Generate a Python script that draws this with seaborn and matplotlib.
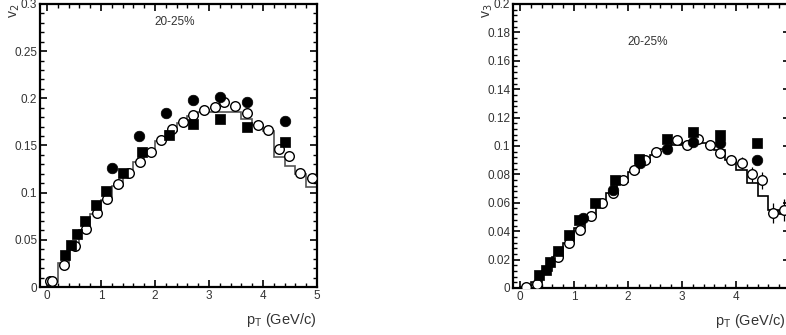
import numpy as np
import pandas as pd
import matplotlib
matplotlib.use("Agg")
import matplotlib.pyplot as plt
from matplotlib.ticker import MultipleLocator, FuncFormatter
import seaborn as sns

# ---------------- v2 panel data ----------------
v2_open_pt = [0.05, 0.10, 0.32, 0.52, 0.72, 0.92, 1.12, 1.31, 1.52, 1.72, 1.92, 2.12,
              2.31, 2.51, 2.71, 2.91, 3.11, 3.28, 3.49, 3.70, 3.90, 4.09, 4.30, 4.49,
              4.69, 4.90]
v2_open = [0.006, 0.006, 0.023, 0.043, 0.061, 0.078, 0.093, 0.109, 0.121, 0.133, 0.143,
           0.156, 0.167, 0.175, 0.182, 0.188, 0.191, 0.196, 0.192, 0.184, 0.172, 0.166,
           0.146, 0.139, 0.121, 0.116]
v2_open_err = [0.003, 0.003, 0.003, 0.003, 0.003, 0.003, 0.003, 0.003, 0.002, 0.002,
               0.002, 0.002, 0.002, 0.002, 0.002, 0.002, 0.002, 0.002, 0.002, 0.003,
               0.003, 0.003, 0.003, 0.003, 0.003, 0.004]
v2_sq_pt = [0.33, 0.45, 0.55, 0.70, 0.90, 1.10, 1.40, 1.75, 2.25, 2.70, 3.20, 3.70, 4.40]
v2_sq = [0.034, 0.045, 0.056, 0.070, 0.087, 0.102, 0.121, 0.143, 0.161, 0.173, 0.178,
         0.170, 0.154]
v2_circ_pt = [1.20, 1.70, 2.20, 2.70, 3.20, 3.70, 4.40]
v2_circ = [0.126, 0.160, 0.184, 0.198, 0.201, 0.196, 0.176]
v2_hist_edges = [0.0, 0.2, 0.4, 0.6, 0.8, 1.0, 1.2, 1.4, 1.6, 1.8, 2.0, 2.2, 2.4, 2.6,
                 2.8, 3.0, 3.6, 3.8, 4.0, 4.2, 4.4, 4.6, 4.8, 5.0]
v2_hist = [0.005, 0.025, 0.042, 0.060, 0.077, 0.092, 0.107, 0.120, 0.132, 0.143, 0.155,
           0.165, 0.174, 0.181, 0.185, 0.185, 0.178, 0.172, 0.165, 0.138, 0.128, 0.120,
           0.106]

# ---------------- v3 panel data ----------------
v3_open_pt = [0.11, 0.31, 0.71, 0.91, 1.11, 1.31, 1.52, 1.72, 1.91, 2.11, 2.31, 2.51,
              2.90, 3.09, 3.30, 3.51, 3.70, 3.91, 4.11, 4.30, 4.49, 4.69, 4.88]
v3_open = [0.0005, 0.003, 0.022, 0.032, 0.041, 0.051, 0.060, 0.067, 0.076, 0.083, 0.090,
           0.096, 0.104, 0.101, 0.105, 0.101, 0.095, 0.090, 0.088, 0.080, 0.076, 0.053,
           0.055]
v3_open_err = [0.002, 0.002, 0.002, 0.002, 0.002, 0.002, 0.002, 0.002, 0.002, 0.002,
               0.002, 0.002, 0.002, 0.002, 0.002, 0.002, 0.003, 0.003, 0.004, 0.005,
               0.006, 0.007, 0.008]
v3_sq_pt = [0.36, 0.48, 0.56, 0.70, 0.90, 1.10, 1.39, 1.75, 2.21, 2.72, 3.21, 3.70, 4.38]
v3_sq = [0.009, 0.013, 0.018, 0.026, 0.037, 0.048, 0.060, 0.076, 0.091, 0.105, 0.110,
         0.108, 0.102]
v3_circ_pt = [1.17, 1.72, 2.22, 2.72, 3.21, 3.70, 4.38]
v3_circ = [0.049, 0.069, 0.088, 0.098, 0.103, 0.102, 0.090]
v3_hist_edges = v2_hist_edges
v3_hist = [0.001, 0.004, 0.012, 0.022, 0.032, 0.042, 0.051, 0.059, 0.067, 0.075, 0.082,
           0.089, 0.094, 0.098, 0.101, 0.102, 0.097, 0.090, 0.083, 0.074, 0.065, 0.055,
           0.052]

centrality = "20-25%"

##############################################

sns.set_style("ticks")
plt.rcParams["font.family"] = ["Liberation Sans", "DejaVu Sans"]

W, H = 786, 335
fig = plt.figure(figsize=(W / 100, H / 100), dpi=100)


def fmt(v, p):
    # hide labels that would fall outside the visible (cropped) area
    return "" if v > 4.5 and fmt.hide5 else f"{v:g}"


def panel(rect, ylim, ymaj, ymin, ylabel, open_pt, open_v, open_err, sq_pt, sq_v,
          circ_pt, circ_v, edges, hist, hist_color, label_y, hide5=False):
    ax = fig.add_axes(rect)
    ax.stairs(hist, edges, color=hist_color, lw=1.2, zorder=1)
    ax.errorbar(open_pt, open_v, yerr=open_err, fmt="none", ecolor="black",
                elinewidth=0.9, zorder=2)
    sns.scatterplot(x=open_pt, y=open_v, ax=ax, marker="o", s=48,
                    facecolor="white", edgecolor="black", linewidth=1.0, zorder=3)
    sns.scatterplot(x=sq_pt, y=sq_v, ax=ax, marker="s", s=50, color="black",
                    edgecolor="black", linewidth=0.5, zorder=4)
    sns.scatterplot(x=circ_pt, y=circ_v, ax=ax, marker="o", s=58, color="black",
                    edgecolor="black", linewidth=0.5, zorder=5)

    ax.set_xlim(-0.13, 5.0)
    ax.set_ylim(*ylim)
    ax.xaxis.set_major_locator(MultipleLocator(1))
    ax.xaxis.set_minor_locator(MultipleLocator(0.2))
    ax.yaxis.set_major_locator(MultipleLocator(ymaj))
    ax.yaxis.set_minor_locator(MultipleLocator(ymin))
    ax.tick_params(which="both", direction="in", top=True, right=True,
                   labelsize=8.5, labelcolor="#333333", color="black", pad=2)
    ax.tick_params(which="major", length=5, width=1.2)
    ax.tick_params(which="minor", length=3, width=1.0)
    xlabels = (lambda v, p: "" if v > 4.5 else f"{v:g}") if hide5 else (lambda v, p: f"{v:g}")
    ax.xaxis.set_major_formatter(FuncFormatter(xlabels))
    ax.yaxis.set_major_formatter(FuncFormatter(lambda v, p: f"{v:g}"))
    for sp in ax.spines.values():
        sp.set_linewidth(1.6)
        sp.set_color("black")
    ax.set_xlabel("")
    ax.set_ylabel("")
    ax.text(-0.09, 1.0, ylabel, transform=ax.transAxes, rotation=90, ha="center",
            va="top", fontsize=10, color="#333333")
    ax.text(2.37, label_y, centrality, fontsize=8.5, color="#333333", ha="center",
            va="center")
    return ax


ax1 = panel([40 / W, (H - 287) / H, 277 / W, 283 / H], (0, 0.3), 0.05, 0.01,
            r"v$_2$", v2_open_pt, v2_open, v2_open_err, v2_sq_pt, v2_sq,
            v2_circ_pt, v2_circ, v2_hist_edges, v2_hist, "#555555", 0.281)
ax1.text(1.0, -0.085, r"p$_\mathregular{T}$ (GeV/c)", transform=ax1.transAxes,
         ha="right", va="top", fontsize=10.5, color="#333333")

ax2 = panel([513 / W, (H - 288) / H, 277 / W, 284 / H], (0, 0.2), 0.02, 0.004,
            r"v$_3$", v3_open_pt, v3_open, v3_open_err, v3_sq_pt, v3_sq,
            v3_circ_pt, v3_circ, v3_hist_edges, v3_hist, "black", 0.173, hide5=True)
ax2.text(1.0 - 4.0 / 277, -0.085, r"p$_\mathregular{T}$ (GeV/c)", transform=ax2.transAxes,
         ha="right", va="top", fontsize=10.5, color="#333333")

fig.savefig("out.png", dpi=100)
